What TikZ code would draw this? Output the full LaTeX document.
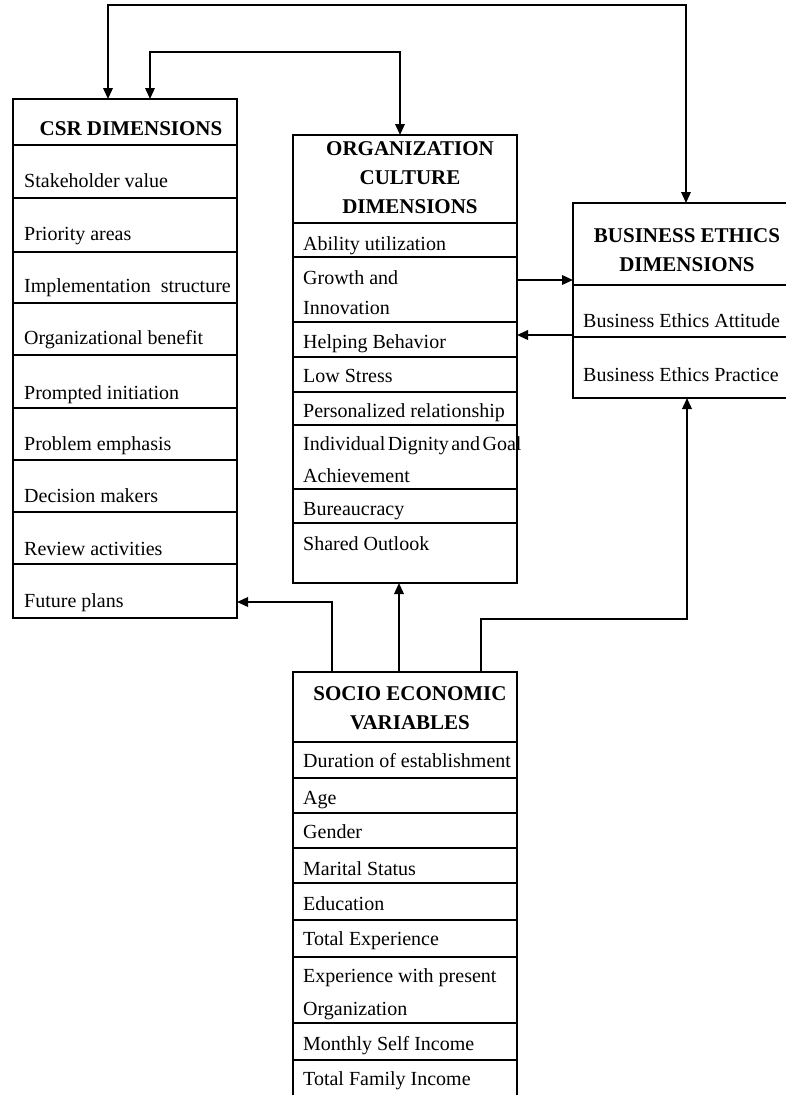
\documentclass[tikz,border=0pt]{standalone}
\usepackage{fontspec}
\setmainfont{Liberation Serif}
\usetikzlibrary{arrows.meta}
\tikzset{
  boxframe/.style={draw, line width=1.7pt, minimum width=224pt, anchor=north west, inner sep=0pt, outer sep=0pt},
  divider/.style={line width=2.6pt},
  conn/.style={line width=1.9pt},
  tip/.style={-{Triangle[length=11pt,width=9.5pt]}},
  tipboth/.style={{Triangle[length=11pt,width=9.5pt]}-{Triangle[length=11pt,width=9.5pt]}},
  rowtext/.style={anchor=base west, inner sep=0pt, font=\fontsize{20}{24}\selectfont},
  headtext/.style={align=center, inner sep=0pt, font=\bfseries\fontsize{21}{29}\selectfont},
}
\begin{document}
\begin{tikzpicture}[x=1pt,y=-1pt]
\useasboundingbox (0,0) rectangle (786,1095);
\fill[white] (0,0) rectangle (786,1095);

% boxes
\node[boxframe, minimum height=519pt] (csr) at (13,99) {};
\node[boxframe, minimum height=448pt] (oc) at (293,135) {};
\node[boxframe, minimum width=227pt, minimum height=195pt] (be) at (573,203) {};
\node[boxframe, minimum height=425pt] (se) at (293,672) {};

% dividers
\foreach \y in {145,198,252,303,355,408,460,512,564}
  \draw[divider] (csr.west |- 0,\y) -- (csr.east |- 0,\y);
\foreach \y in {223,257,322,357,392,425,489,523}
  \draw[divider] (oc.west |- 0,\y) -- (oc.east |- 0,\y);
\foreach \y in {285,337}
  \draw[divider] (be.west |- 0,\y) -- (be.east |- 0,\y);
\foreach \y in {742,778,813,848,883,920,957,1023,1060}
  \draw[divider] (se.west |- 0,\y) -- (se.east |- 0,\y);

% headers
\node[headtext, anchor=base] (csrh) at (131,135) {CSR DIMENSIONS};
\node[headtext] (och) at (410,178) {ORGANIZATION\\CULTURE\\DIMENSIONS};
\node[headtext] (beh) at (687,250) {\fontsize{21}{34}\selectfont BUSINESS ETHICS\\DIMENSIONS};
\node[headtext] (seh) at (410,708.5) {\fontsize{21}{31}\selectfont SOCIO ECONOMIC\\VARIABLES};

% CSR rows
\node[rowtext] (c1) at (24,187) {Stakeholder value};
\node[rowtext] (c2) at (24,240) {Priority areas};
\node[rowtext] (c3) at (24,292) {Implementation\ \ structure};
\node[rowtext] (c4) at (24,344) {Organizational benefit};
\node[rowtext] (c5) at (24,399) {Prompted initiation};
\node[rowtext] (c6) at (24,450) {Problem emphasis};
\node[rowtext] (c7) at (24,502) {Decision makers};
\node[rowtext] (c8) at (24,555) {Review activities};
\node[rowtext] (c9) at (24,607) {Future plans};

% OC rows
\node[rowtext] (o1) at (303,250) {Ability utilization};
\node[rowtext] (o2) at (303,284) {Growth and};
\node[rowtext] (o2b) at (303,314) {Innovation};
\node[rowtext] (o3) at (303,348) {Helping Behavior};
\node[rowtext] (o4) at (303,382) {Low Stress};
\node[rowtext] (o5) at (303,417) {Personalized relationship};
\node[rowtext] (o6) at (303,450) {\spaceskip=0.12em\relax Individual Dignity and Goal};
\node[rowtext] (o6b) at (303,482) {Achievement};
\node[rowtext] (o7) at (303,515) {Bureaucracy};
\node[rowtext] (o8) at (303,550) {Shared Outlook};

% BE rows
\node[rowtext] (b1) at (583,327) {Business Ethics Attitude};
\node[rowtext] (b2) at (583,381) {Business Ethics Practice};

% SE rows
\node[rowtext] (s1) at (303,767) {Duration of establishment};
\node[rowtext] (s2) at (303,804) {Age};
\node[rowtext] (s3) at (303,838) {Gender};
\node[rowtext] (s4) at (303,875) {Marital Status};
\node[rowtext] (s5) at (303,910) {Education};
\node[rowtext] (s6) at (303,945) {Total Experience};
\node[rowtext] (s7) at (303,982) {Experience with present};
\node[rowtext] (s7b) at (303,1015) {Organization};
\node[rowtext] (s8) at (303,1050) {Monthly Self Income};
\node[rowtext] (s9) at (303,1085) {Total Family Income};

% connectors
\draw[conn, tipboth] (csr.north -| 108,0) -- ++(0,-94) -| (be.north -| 686,0);
\draw[conn, tipboth] (csr.north -| 150,0) -- ++(0,-47) -| (oc.north -| 400,0);
\draw[conn, tip] (oc.east |- 0,280) -- (be.west |- 0,280);
\draw[conn, tip] (be.west |- 0,335) -- (oc.east |- 0,335);
\draw[conn, tip] (se.north -| 332,0) |- (csr.east |- 0,602);
\draw[conn, tip] (se.north -| 399,0) -- (oc.south -| 399,0);
\draw[conn, tip] (se.north -| 481,0) -- ++(0,-53) -| (be.south -| 687,0);
\end{tikzpicture}
\end{document}
